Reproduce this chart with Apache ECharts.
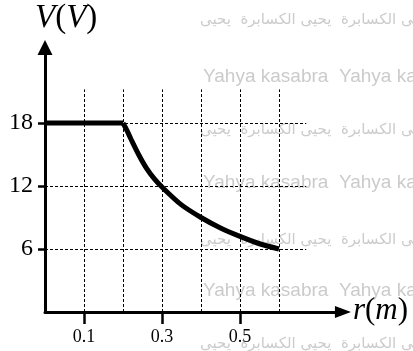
<!DOCTYPE html>
<html><head><meta charset="utf-8">
<script src="https://cdn.jsdelivr.net/npm/echarts@6/dist/echarts.min.js"></script>
<style>html,body{margin:0;padding:0;background:#fff}#c{width:413px;height:351px}</style>
</head><body><div id="c"></div>
<script>
// Data
const flatR = [0, 0.2];
const flatV = [18, 18];
const curveR = [0.2, 0.21, 0.22, 0.24, 0.26, 0.28, 0.3, 0.35, 0.4, 0.45, 0.5, 0.55, 0.6];
const curveV = [18, 17.3, 16.5, 15.0, 13.7, 12.7, 11.9, 10.2, 9.0, 8.0, 7.2, 6.5, 6.0];
const xTicks = [0.1, 0.3, 0.5];
const yTicks = [6, 12, 18];
const xGridVals = [0.1, 0.2, 0.3, 0.4, 0.5, 0.6];
const yGridVals = [6, 12, 18];
const wmArabic = 'يحيى الكسابرة  يحيى الكسابرة  يحيى';
const wmLatin = 'Yahya kasabra  Yahya kasabra';

const X_MAX = 0.764, Y_MAX = 25.2;
const vTop = 21.2, hRight = 0.67;

const chart = echarts.init(document.getElementById('c'), null, {renderer:'canvas'});
const serif = '"Liberation Serif","Times New Roman",serif';

const gridLines = [];
xGridVals.forEach(x => gridLines.push([{coord:[x,0]},{coord:[x,vTop]}]));
yGridVals.forEach(y => gridLines.push([{coord:[0,y]},{coord:[hRight,y]}]));

const wm = [];
const arabicRows = [23, 133, 243, 347];
const latinRows = [78, 184, 292];
arabicRows.forEach(y => wm.push({type:'text', left:200, top:y-10, z:0, silent:true,
  style:{text:wmArabic, fill:'#cbcbcb', font:'15px "DejaVu Sans", sans-serif'}}));
latinRows.forEach(y => wm.push({type:'text', left:203, top:y-11, z:0, silent:true,
  style:{text:wmLatin, fill:'#cbcbcb', font:'19px "Liberation Sans", sans-serif'}}));
wm.push({type:'text', left:35, top:2, z:10,
  style:{text:'{i|V}({i|V})', font:'33px '+serif, fill:'#000',
    rich:{i:{fontStyle:'italic', fontFamily:'Liberation Serif', fontSize:33, fill:'#000'}}}});

chart.setOption({
  animation:false,
  grid:{left:45, right:413-45-X_MAX*390, top:312-Y_MAX*10.5, bottom:39},
  xAxis:{type:'value', min:0, max:X_MAX, splitLine:{show:false},
    axisLine:{onZero:false, lineStyle:{color:'#000', width:3}, symbol:['none','triangle'], symbolSize:[12,16]},
    axisTick:{show:true, customValues:xTicks, length:12, lineStyle:{color:'#000', width:2.5}},
    axisLabel:{customValues:xTicks, margin:16, color:'#000', fontFamily:'Liberation Serif', fontSize:18, formatter:v=>String(v)},
    name:'{i|r}({i|m})', nameLocation:'end', nameGap:10,
    nameTextStyle:{color:'#000', fontFamily:'Liberation Serif', fontSize:31, padding:[0,0,2,0],
      rich:{i:{fontStyle:'italic', fontFamily:'Liberation Serif', fontSize:31, color:'#000'}}}},
  yAxis:{type:'value', min:0, max:Y_MAX, splitLine:{show:false},
    axisLine:{onZero:false, lineStyle:{color:'#000', width:3}, symbol:['none','triangle'], symbolSize:[15,15]},
    axisTick:{show:true, customValues:yTicks, length:7, lineStyle:{color:'#000', width:2.5}},
    axisLabel:{customValues:yTicks, margin:12, color:'#000', fontFamily:'Liberation Serif', fontSize:24}},
  graphic:wm,
  series:[
    {type:'line', data:[], z:1, silent:true,
      markLine:{silent:true, symbol:['none','none'], label:{show:false},
        lineStyle:{color:'#000', width:1, type:[3,2]}, data:gridLines}},
    {type:'line', data:flatR.map((r,i)=>[r,flatV[i]]), showSymbol:false, z:5,
      lineStyle:{color:'#000', width:5, cap:'butt'}},
    {type:'line', data:curveR.map((r,i)=>[r,curveV[i]]), showSymbol:false, smooth:0.3, z:5,
      lineStyle:{color:'#000', width:5, cap:'butt'}}
  ]
});
</script></body></html>
